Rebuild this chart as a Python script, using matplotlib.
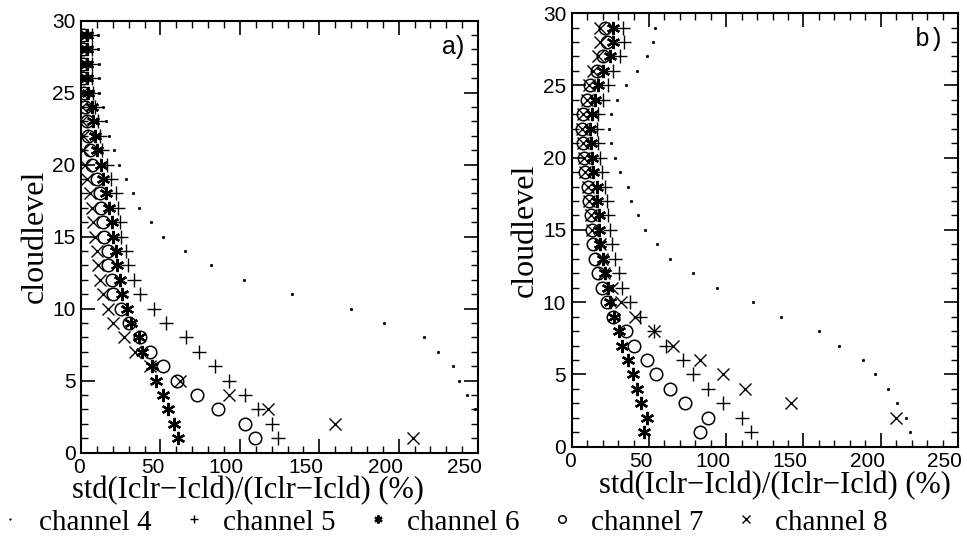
import matplotlib
matplotlib.use('Agg')
import matplotlib.pyplot as plt
from matplotlib.lines import Line2D
from matplotlib.transforms import ScaledTranslation

nan = float('nan')
levels = list(range(1, 30))

# panel a)
a_ch4 = [nan, nan, 248, 243, 238, 234, 225, 216, 191, 170, 133, 102.5, 81.7, 65.6, 51.5, 43.8, 36.5, 33, 28, 24,
         20.8, 17.7, 15.6, 14, 11.5, 11, 11, 10.8, 10.8]
a_ch5 = [124, 120, 111.5, 103, 93, 84.2, 74.4, 66, 53.5, 46, 36.9, 33.3, 29.6, 28.1, 25.4, 24.8, 23.3, 22, 19, 16.5,
         13.5, 11.9, 10.8, 9, 7.5, 7, 7, 7, 7]
a_ch6 = [60.8, 58.8, 54.6, 51.5, 46.9, 44.5, 38.5, 36.3, 31.3, 29, 26, 24.4, 22.9, 21.9, 20.2, 19.8, 17.7, 16, 14, 12.4,
         9.8, 8.8, 7.7, 6.7, 4.5, 4, 4, 4, 4]
a_ch7 = [109.8, 103, 86.2, 72.9, 60.2, 51.9, 43.5, 36.9, 30.2, 25, 20.2, 19.2, 17.1, 16.7, 14.6, 14, 12.5, 11.9, 9.8, 7.2,
         5.6, 4.6, 3.5, 2.5, 2, 1.5, 1.5, 1.5, 1.5]
a_ch8 = [208.8, 160, 118, 93.1, 62, 43.5, 33.8, 27, 20.2, 17, 14, 11.9, 10.8, 9.8, 8.8, 7.7, 6.7, 5.6, 3.5, 2.2,
         1.5, 1, 0.4, 0.3, 0.3, 0.3, 0.3, 0.3, 0.3]

# panel b)
b_ch4 = [219, 216.3, 210.3, 204.9, 196.2, 188.7, 173.2, 160.2, 135.2, 117.5, 93.8, 78.7, 63.6, 55, 47.4, 43.1, 38.4,
         36.2, 31.2, 28, 25.2, 24.3, 25.2, 29.1, 35.1, 42, 48.5, 52.8, 53.9]
b_ch5 = [115.8, 110, 98.1, 88.4, 78.7, 71.8, 61, 53.5, 44.2, 38, 32.3, 30.5, 28, 26.2, 24.8, 23.7, 22.6, 21.5, 19.4,
         18.3, 17.2, 16.6, 17.2, 20, 23.7, 26.9, 31.2, 33.8, 33.4]
b_ch6 = [46.5, 48.9, 44.8, 42.5, 39.5, 36.6, 32.3, 30.5, 27.5, 24.5, 23.7, 21.8, 20, 18.5, 17.9, 17.9, 16.6, 16.2, 14,
         12.9, 12.3, 11.8, 12.9, 15.1, 17.2, 20.5, 24.8, 26.9, 26.9]
b_ch7 = [83, 88.4, 73.3, 63.6, 54.5, 48.5, 40.3, 35.1, 26.5, 23, 19.4, 17.2, 15.1, 13.6, 12.9, 12.3, 11.4, 10.8, 8.6,
         8, 7.1, 6.5, 7.5, 9.7, 11.8, 16.2, 20.5, 22.6, 21.5]
b_ch8 = [nan, 209.8, 141.7, 112.1, 97.7, 83, 65.7, 53, 41, 32, 25.8, 21, 19.5, 18, 12.9, 12.3, 11.4, 10.8, 8.6,
         8, 7.1, 6.5, 7.5, 9.7, 11, 14, 17.2, 18.3, 18.3]

channel_labels = ['channel 4', 'channel 5', 'channel 6', 'channel 7', 'channel 8']
panel_tags = ['a)', 'b)']
x_label = 'std(Iclr\u2212Icld)/(Iclr\u2212Icld) (%)'
y_label = 'cloudlevel'
x_ticks = [0, 50, 100, 150, 200, 250]
y_ticks = [0, 5, 10, 15, 20, 25, 30]

styles = [
    dict(marker='.', ms=3.5, mfc='black', mec='black', mew=0.5),
    dict(marker='+', ms=10, mec='black', mew=1.0),
    dict(marker=(6, 2, 0), ms=9.5, mec='black', mew=1.7),
    dict(marker='o', ms=9, mfc='none', mec='black', mew=1.1),
    dict(marker='x', ms=9, mec='black', mew=1.0),
]

serif = 'Liberation Serif'
sans = 'Liberation Sans'

fig = plt.figure(figsize=(9.67, 5.51), dpi=100)
ax_a = fig.add_axes([0.0838, 0.1786, 0.4106, 0.784])
ax_b = fig.add_axes([0.5912, 0.1893, 0.3995, 0.787])

panels = [(ax_a, [a_ch4, a_ch5, a_ch6, a_ch7, a_ch8]),
          (ax_b, [b_ch4, b_ch5, b_ch6, b_ch7, b_ch8])]
xlabel_pos = [0.42, 0.525]

shift = ScaledTranslation(4 / 100, 0, fig.dpi_scale_trans)

for i, (ax, series) in enumerate(panels):
    for vals, st in zip(series, styles):
        ax.plot(vals, levels, linestyle='none', color='black', clip_on=True, **st)
    ax.set_xlim(0, 250)
    ax.set_ylim(0, 30)
    ax.set_xticks(x_ticks)
    ax.set_yticks(y_ticks)
    ax.set_xticks(range(0, 251, 10), minor=True)
    ax.set_yticks(range(0, 31, 1), minor=True)
    ax.tick_params(which='both', direction='in', top=True, right=True, color='black')
    ax.tick_params(which='major', length=10, width=1.2, labelsize=15, pad=4)
    ax.tick_params(which='minor', length=5, width=1.0)
    for lab in ax.get_xticklabels():
        lab.set_fontfamily(sans)
        lab.set_horizontalalignment('right')
        lab.set_transform(lab.get_transform() + shift)
    for lab in ax.get_yticklabels():
        lab.set_fontfamily(sans)
    for sp in ax.spines.values():
        sp.set_linewidth(1.5)
    ax.set_xlabel(x_label, fontfamily=serif, fontsize=22, labelpad=0)
    ax.xaxis.set_label_coords(xlabel_pos[i], -0.055)
    ax.xaxis.label.set_verticalalignment('top')
    ax.set_ylabel(y_label, fontfamily=serif, fontsize=23, labelpad=2)
    ax.text(0.965, 0.94, panel_tags[i], transform=ax.transAxes, ha='right', va='center',
            fontsize=18, fontfamily=(sans if i == 0 else 'Liberation Mono'))

handles = [Line2D([], [], linestyle='none', color='black',
                  **{k: (v * 0.6 if k == 'ms' else v) for k, v in st.items()}) for st in styles]
fig.legend(handles, channel_labels, ncol=5, loc='center left', bbox_to_anchor=(-0.017, 0.052),
           frameon=False, prop={'family': serif, 'size': 21}, handlelength=1.0, handletextpad=0.5,
           columnspacing=0.95, borderaxespad=0.0)

fig.savefig('out.png', dpi=100, facecolor='white')
